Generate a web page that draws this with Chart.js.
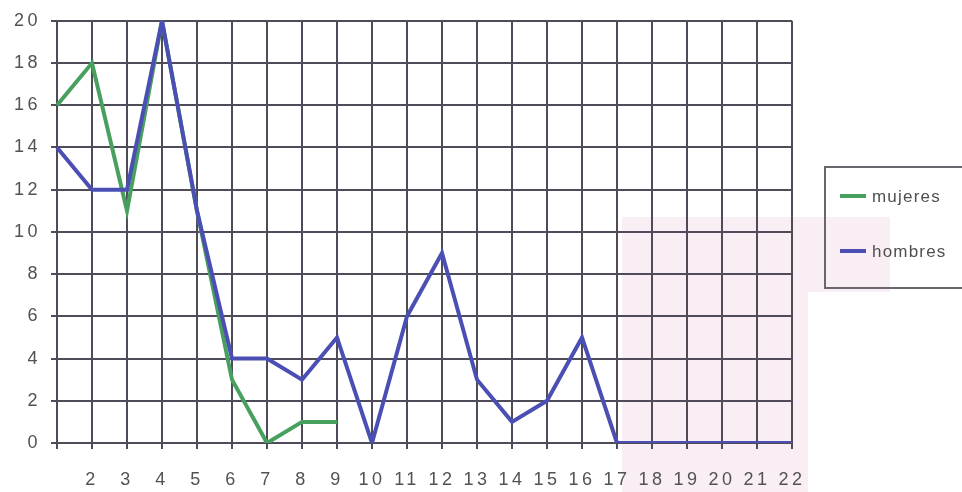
<!DOCTYPE html>
<html>
<head>
<meta charset="utf-8">
<script src="https://cdn.jsdelivr.net/npm/chart.js@4"></script>
<style>
  html, body { margin: 0; padding: 0; background: #ffffff; }
  #wrap { width: 962px; height: 492px; }
</style>
</head>
<body>
<div id="wrap"><canvas id="c" width="962" height="492"></canvas></div>
<script>
// Casos por semana, mujeres y hombres
const categories = ['1','2','3','4','5','6','7','8','9','10','11','12','13','14','15','16','17','18','19','20','21','22'];
const mujeres = [16, 18, 11, 20, 11, 3, 0, 1, 1, null, null, null, null, null, null, null, null, null, null, null, null, null];
const hombres = [14, 12, 12, 20, 11, 4, 4, 3, 5, 0, 6, 9, 3, 1, 2, 5, 0, 0, 0, 0, 0, 0];
const seriesNames = ['mujeres', 'hombres'];
const seriesColors = ['#47a05d', '#4b4fb3'];

const gridColor = '#4f4b59';
const textColor = '#525252';

// light pink backdrop behind the right part of the plot
const backdrop = {
  id: 'backdrop',
  beforeDraw(chart) {
    const ctx = chart.ctx;
    ctx.save();
    ctx.fillStyle = '#f8eef4';
    ctx.fillRect(622, 217, 268, 75);
    ctx.fillRect(622, 292, 186, 200);
    ctx.restore();
    ctx.letterSpacing = '3.5px';
  }
};

// boxed legend on the right
const boxedLegend = {
  id: 'boxedLegend',
  afterDraw(chart) {
    const ctx = chart.ctx;
    ctx.save();
    ctx.letterSpacing = '1.2px';
    ctx.strokeStyle = '#6a6670';
    ctx.lineWidth = 2;
    ctx.strokeRect(825, 167, 150, 121);
    const rows = [196, 251];
    chart.data.datasets.forEach((ds, i) => {
      const y = rows[i];
      ctx.strokeStyle = ds.borderColor;
      ctx.lineWidth = 4;
      ctx.beginPath();
      ctx.moveTo(840, y);
      ctx.lineTo(866, y);
      ctx.stroke();
      ctx.fillStyle = '#4f4f4f';
      ctx.font = '17px "Liberation Sans", Arial, sans-serif';
      ctx.textBaseline = 'middle';
      ctx.textAlign = 'left';
      ctx.fillText(ds.label, 872, y + 1);
    });
    ctx.restore();
  }
};

new Chart(document.getElementById('c'), {
  type: 'line',
  data: {
    labels: categories,
    datasets: [
      { label: seriesNames[0], data: mujeres, borderColor: seriesColors[0], backgroundColor: seriesColors[0],
        borderWidth: 4, pointRadius: 0, tension: 0, spanGaps: false, order: 1 },
      { label: seriesNames[1], data: hombres, borderColor: seriesColors[1], backgroundColor: seriesColors[1],
        borderWidth: 4, pointRadius: 0, tension: 0, spanGaps: false, order: 0 }
    ]
  },
  options: {
    responsive: false,
    animation: false,
    devicePixelRatio: 1,
    layout: { padding: { left: 0, top: 19, right: 170, bottom: 0 } },
    plugins: { legend: { display: false }, tooltip: { enabled: false } },
    scales: {
      x: {
        offset: false,
        grid: { color: gridColor, lineWidth: 2, tickLength: 6, drawTicks: true },
        border: { display: true, color: gridColor, width: 2 },
        ticks: {
          color: textColor, padding: 20, maxRotation: 0, autoSkip: false,
          font: { family: '"Liberation Sans", Arial, sans-serif', size: 18 },
          callback: (v, i) => i === 0 ? '' : categories[i]
        },
        afterFit: (s) => { s.height = 49; }
      },
      y: {
        min: 0, max: 20,
        grid: { color: gridColor, lineWidth: 2, tickLength: 6, drawTicks: true },
        border: { display: true, color: gridColor, width: 2 },
        ticks: {
          stepSize: 2, color: textColor, padding: 10,
          font: { family: '"Liberation Sans", Arial, sans-serif', size: 18 }
        },
        afterFit: (s) => { s.width = 57; }
      }
    }
  },
  plugins: [backdrop, boxedLegend]
});
</script>
</body>
</html>
